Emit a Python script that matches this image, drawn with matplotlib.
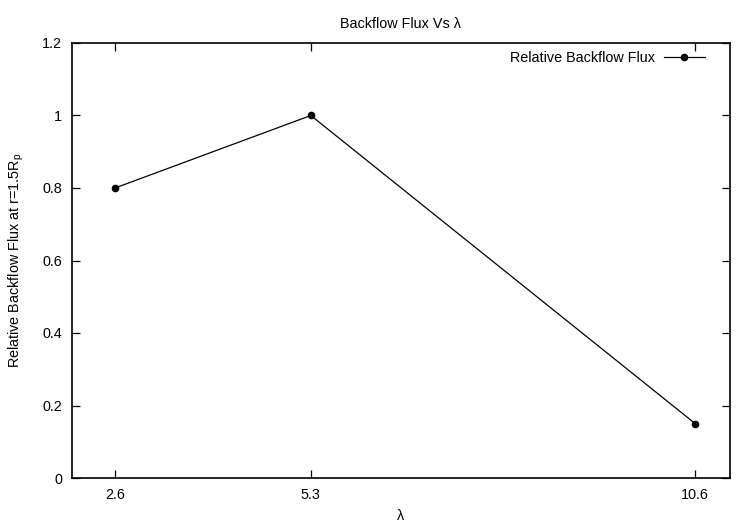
import matplotlib
matplotlib.use("Agg")
import matplotlib.pyplot as plt

lam = [2.6, 5.3, 10.6]
flux = [0.8, 1.0, 0.15]
xticks = [2.6, 5.3, 10.6]
yticks = [0, 0.2, 0.4, 0.6, 0.8, 1.0, 1.2]
ytick_labels = ["0", "0.2", "0.4", "0.6", "0.8", "1", "1.2"]

plt.rcParams['font.family'] = ['Liberation Sans', 'DejaVu Sans']
plt.rcParams['font.size'] = 10.4

fig = plt.figure(figsize=(7.5, 5.25), dpi=100)
ax = fig.add_axes([72/750, 1-478/525, (730-72)/750, (478-43)/525])
ax.plot(lam, flux, color='black', lw=0.9, marker='o', ms=4.5, label='Relative Backflow Flux')
ax.set_xlim(2.007, 11.08)
ax.set_ylim(0, 1.2)
ax.set_xticks(xticks)
ax.set_xticklabels([str(v) for v in xticks])
ax.set_yticks(yticks)
ax.set_yticklabels(ytick_labels)
ax.tick_params(direction='in', top=True, right=True, length=6, width=0.9, pad=7)
for s in ax.spines.values():
    s.set_linewidth(1.2)
ax.set_title('Backflow Flux Vs λ', pad=11, fontsize=10.4)
ax.set_xlabel('λ', labelpad=5)
ax.set_ylabel('Relative Backflow Flux at r=1.5R$_\\mathregular{p}$', labelpad=12)
ax.legend(loc='upper right', bbox_to_anchor=((705-72)/658, (478-51)/435),
          frameon=False, markerfirst=False, handlelength=2.85, handletextpad=0.63,
          borderaxespad=0, borderpad=0)
fig.savefig('out.png', dpi=100)
